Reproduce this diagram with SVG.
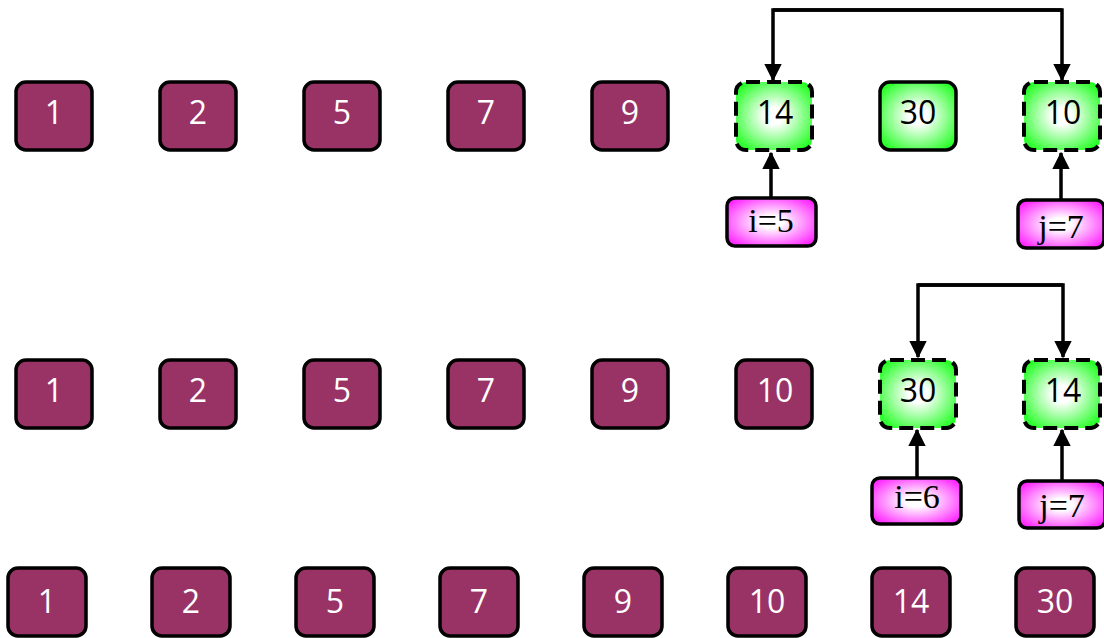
<svg xmlns="http://www.w3.org/2000/svg" width="1104" height="638" viewBox="0 0 1104 638">
<defs>
<radialGradient id="gg" cx="50%" cy="50%" r="62%">
<stop offset="0" stop-color="#ffffff"/>
<stop offset="0.2" stop-color="#ffffff"/>
<stop offset="1" stop-color="#22ff22"/>
</radialGradient>
<radialGradient id="pg" cx="50%" cy="50%" r="62%">
<stop offset="0" stop-color="#ffffff"/>
<stop offset="0.2" stop-color="#ffffff"/>
<stop offset="1" stop-color="#ff22ff"/>
</radialGradient>
<marker id="ah" markerWidth="5" markerHeight="5" refX="4.6" refY="2.5" orient="auto" markerUnits="strokeWidth">
<path d="M0,0 L5,2.5 L0,5 Z" fill="#000"/>
</marker>
<style>
.n rect{fill:#993366;stroke:#000;stroke-width:3.5}
.n text{fill:#fff;font-family:"Open Sans","Noto Sans",sans-serif;font-size:32px;text-anchor:middle}
.g rect{fill:url(#gg);stroke:#000;stroke-width:3.5}
.g.d rect{stroke-width:4;stroke-dasharray:14 7}
.g text{fill:#000;font-family:"Open Sans","Noto Sans",sans-serif;font-size:32px;text-anchor:middle}
.p rect{fill:url(#pg);stroke:#000;stroke-width:3.5}
.p text{fill:#000;font-family:"Liberation Serif","Times New Roman",serif;font-size:34px;text-anchor:middle}
.c path{fill:none;stroke:#000;stroke-width:3.5;marker-end:url(#ah)}
</style>
</defs>
<g id="connectors" class="c">
<path d="M1062,10 L773,10 L773,80"/>
<path d="M773,10 L1062,10 L1062,80"/>
<path d="M771,198 L771,153"/>
<path d="M1061,200 L1061,153"/>
<path d="M1063,285 L918,285 L918,357"/>
<path d="M918,285 L1063,285 L1063,357"/>
<path d="M917,478 L917,430"/>
<path d="M1062,481 L1062,430"/>
</g>
<g id="r1n1" class="n"><rect x="16" y="82" width="76" height="68" rx="10"/><text x="54" y="124">1</text></g>
<g id="r1n2" class="n"><rect x="160" y="82" width="76" height="68" rx="10"/><text x="198" y="124">2</text></g>
<g id="r1n3" class="n"><rect x="304" y="82" width="76" height="68" rx="10"/><text x="342" y="124">5</text></g>
<g id="r1n4" class="n"><rect x="448" y="82" width="76" height="68" rx="10"/><text x="486" y="124">7</text></g>
<g id="r1n5" class="n"><rect x="592" y="82" width="76" height="68" rx="10"/><text x="630" y="124">9</text></g>
<g id="r1n6" class="g d"><rect x="736" y="82" width="76" height="68" rx="10"/><text x="775" y="124">14</text></g>
<g id="r1n7" class="g"><rect x="880" y="82" width="76" height="68" rx="10"/><text x="918" y="124">30</text></g>
<g id="r1n8" class="g d"><rect x="1024" y="82" width="76" height="68" rx="10"/><text x="1063" y="124">10</text></g>
<g id="r1i" class="p"><rect x="727" y="198" width="89" height="48" rx="8"/><text x="771" y="232">i=5</text></g>
<g id="r1j" class="p"><rect x="1018" y="200" width="86" height="48" rx="8"/><text x="1061" y="238">j=7</text></g>
<g id="r2n1" class="n"><rect x="16" y="360" width="76" height="68" rx="10"/><text x="54" y="402">1</text></g>
<g id="r2n2" class="n"><rect x="160" y="360" width="76" height="68" rx="10"/><text x="198" y="402">2</text></g>
<g id="r2n3" class="n"><rect x="304" y="360" width="76" height="68" rx="10"/><text x="342" y="402">5</text></g>
<g id="r2n4" class="n"><rect x="448" y="360" width="76" height="68" rx="10"/><text x="486" y="402">7</text></g>
<g id="r2n5" class="n"><rect x="592" y="360" width="76" height="68" rx="10"/><text x="630" y="402">9</text></g>
<g id="r2n6" class="n"><rect x="736" y="360" width="76" height="68" rx="10"/><text x="775" y="402">10</text></g>
<g id="r2n7" class="g d"><rect x="880" y="360" width="76" height="68" rx="10"/><text x="918" y="402">30</text></g>
<g id="r2n8" class="g d"><rect x="1024" y="360" width="76" height="68" rx="10"/><text x="1063" y="402">14</text></g>
<g id="r2i" class="p"><rect x="872" y="478" width="89" height="46" rx="8"/><text x="917" y="508">i=6</text></g>
<g id="r2j" class="p"><rect x="1019" y="481" width="86" height="47" rx="8"/><text x="1062" y="517">j=7</text></g>
<g id="r3n1" class="n"><rect x="8" y="568" width="78" height="68" rx="10"/><text x="47" y="613">1</text></g>
<g id="r3n2" class="n"><rect x="152" y="568" width="78" height="68" rx="10"/><text x="191" y="613">2</text></g>
<g id="r3n3" class="n"><rect x="296" y="568" width="78" height="68" rx="10"/><text x="335" y="613">5</text></g>
<g id="r3n4" class="n"><rect x="440" y="568" width="78" height="68" rx="10"/><text x="479" y="613">7</text></g>
<g id="r3n5" class="n"><rect x="584" y="568" width="78" height="68" rx="10"/><text x="623" y="613">9</text></g>
<g id="r3n6" class="n"><rect x="728" y="568" width="78" height="68" rx="10"/><text x="767" y="613">10</text></g>
<g id="r3n7" class="n"><rect x="872" y="568" width="78" height="68" rx="10"/><text x="911" y="613">14</text></g>
<g id="r3n8" class="n"><rect x="1016" y="568" width="78" height="68" rx="10"/><text x="1055" y="613">30</text></g>
</svg>
